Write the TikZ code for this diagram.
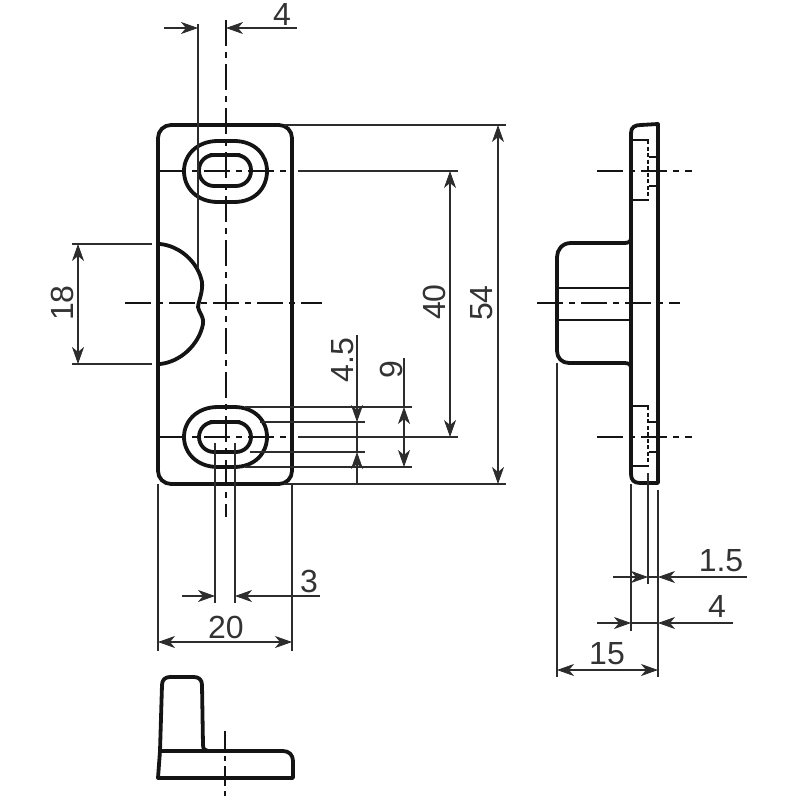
\documentclass[tikz,border=0pt]{standalone}
\usepackage{fontspec}
\setmainfont{Liberation Sans}
\usetikzlibrary{arrows.meta}
\definecolor{ink}{gray}{0.08}
\tikzset{
  outline/.style={line width=3.8pt,draw=ink,line cap=round,line join=round},
  thin part/.style={line width=2.6pt,draw=ink},
  hidden part/.style={line width=2.6pt,draw=ink,dash pattern=on 4pt off 2.5pt},
  ext/.style={line width=2.3pt,draw=ink!90},
  center line/.style={line width=2.6pt,draw=ink,dash pattern=on 26pt off 6pt on 6pt off 6pt},
  dimline/.style={line width=2.3pt,draw=ink!90},
  tipa/.tip={Stealth[length=17pt,width=12pt,inset=5pt,line width=0.8pt]},
  both/.style={dimline,tipa-tipa},
  endtip/.style={dimline,-tipa},
  lab/.style={font=\fontsize{32}{32}\selectfont,text=black!80,inner sep=0pt},
}
\begin{document}
\begin{tikzpicture}[x=1pt,y=-1pt]
\useasboundingbox (0,0) rectangle (800,800);
% ---- front view ----
\draw[outline,rounded corners=13pt] (158,300) -- (158,125) -- (292,125) -- (292,484) -- (158,484) -- cycle;
\draw[outline] (218,141) -- (234,141) .. controls (255,141) and (267,155) .. (267,171) .. controls (267,188) and (255,202) .. (234,202) -- (218,202) .. controls (197,202) and (184,188) .. (184,171) .. controls (184,155) and (197,141) .. (218,141) -- cycle;
\draw[outline,rounded corners=15pt] (225,155) -- (251,155) -- (251,186) -- (199,186) -- (199,155) -- cycle;
\draw[outline] (218,407) -- (234,407) .. controls (255,407) and (267,421) .. (267,437) .. controls (267,453) and (255,467) .. (234,467) -- (218,467) .. controls (197,467) and (184,453) .. (184,437) .. controls (184,421) and (197,407) .. (218,407) -- cycle;
\draw[outline,rounded corners=15pt] (225,422) -- (251,422) -- (251,452) -- (199,452) -- (199,422) -- cycle;
\draw[outline] (160,244) .. controls (180,246) and (198,262) .. (202,282) .. controls (203,292) and (199,299) .. (198,307) .. controls (199,313) and (204,316) .. (203,324) .. controls (199,345) and (180,362) .. (160,364);
% center lines
\draw[center line] (226,20) -- (226,517);
\draw[center line] (125,303) -- (322,303);
\draw[center line] (160,171) -- (290,171);
\draw[center line] (160,437) -- (290,437);
% extension lines, front view
\draw[ext] (198,24) -- (198,268);
\draw[ext] (215,443) -- (215,603);
\draw[ext] (235,443) -- (235,603);
\draw[ext] (158,484) -- (158,651);
\draw[ext] (292,484) -- (292,651);
\draw[ext] (284,125) -- (506,125);
\draw[ext] (298,171) -- (458,171);
\draw[ext] (298,437) -- (458,437);
\draw[ext] (284,484) -- (506,484);
\draw[ext] (245,407) -- (412,407);
\draw[ext] (260,422) -- (365,422);
\draw[ext] (250,452) -- (365,452);
\draw[ext] (245,467) -- (412,467);
\draw[ext] (72,244) -- (152,244);
\draw[ext] (72,364) -- (152,364);
% dimensions, front view
\coordinate (d4a) at (164,28); \coordinate (d4b) at (198,28);
\coordinate (d4c) at (297,28); \coordinate (d4d) at (226,28);
\draw[endtip] (d4a) -- (d4b);
\draw[endtip] (d4c) -- (d4d);
\coordinate (d3a) at (182,596); \coordinate (d3b) at (215,596);
\coordinate (d3c) at (320,596); \coordinate (d3d) at (235,596);
\draw[endtip] (d3a) -- (d3b);
\draw[endtip] (d3c) -- (d3d);
\coordinate (d20a) at (158,642); \coordinate (d20b) at (292,642);
\draw[both] (d20a) -- (d20b);
\coordinate (d18a) at (78,244); \coordinate (d18b) at (78,364);
\draw[both] (d18a) -- (d18b);
\coordinate (d40a) at (450,171); \coordinate (d40b) at (450,437);
\draw[both] (d40a) -- (d40b);
\coordinate (d54a) at (498,125); \coordinate (d54b) at (498,484);
\draw[both] (d54a) -- (d54b);
\coordinate (d9a) at (404,358); \coordinate (d9b) at (404,407); \coordinate (d9c) at (404,467);
\draw[dimline] (d9a) -- (d9b);
\draw[both] (d9b) -- (d9c);
\coordinate (d45a) at (357,335); \coordinate (d45b) at (357,422);
\coordinate (d45c) at (357,484); \coordinate (d45d) at (357,452);
\draw[endtip] (d45a) -- (d45b);
\draw[endtip] (d45c) -- (d45d);
\draw[dimline] (d45b) -- (d45d);
\node[lab] (t4) at (282,14) {4};
\node[lab] (t3) at (309,581) {3};
\node[lab] (t20) at (226,627) {20};
\node[lab,rotate=90] (t18) at (62,303) {18};
\node[lab,rotate=90] (t40) at (434,302) {40};
\node[lab,rotate=90] (t54) at (482,303) {54};
\node[lab,rotate=90] (t45) at (343,360) {4.5};
\node[lab,rotate=90] (t9) at (391,370) {9};
% ---- side view ----
\draw[outline] (631,300) -- (631,133) .. controls (631,127) and (635,125) .. (641,125) -- (658,124) -- (658,483) -- (640,483) .. controls (634,483) and (631,480) .. (631,474) -- cycle;
\draw[outline] (631,238) .. controls (631,242) and (628,243) .. (624,243) -- (571,243) .. controls (562,243) and (557,250) .. (557,257) -- (557,351) .. controls (557,358) and (562,363) .. (569,363) -- (624,363) .. controls (628,363) and (631,364) .. (631,368);
\draw[thin part] (557,288) -- (631,288);
\draw[thin part] (557,320) -- (631,320);
\draw[center line] (537,303) -- (680,303);
\draw[center line] (597,171) -- (692,171);
\draw[center line] (597,437) -- (692,437);
\draw[thin part] (632,140) -- (649,140);
\draw[thin part] (632,200) -- (649,200);
\draw[hidden part] (648,140) -- (648,200);
\draw[thin part] (649,157) -- (657,157);
\draw[thin part] (649,186) -- (657,186);
\draw[thin part] (632,406) -- (649,406);
\draw[thin part] (632,466) -- (649,466);
\draw[hidden part] (648,406) -- (648,466);
\draw[thin part] (649,422) -- (657,422);
\draw[thin part] (649,452) -- (657,452);
% extension lines, side view
\draw[ext] (557,363) -- (557,677);
\draw[ext] (631,484) -- (631,631);
\draw[ext] (648,473) -- (648,584);
\draw[ext] (658,490) -- (658,677);
% dimensions, side view
\coordinate (d15a) at (557,670); \coordinate (d15b) at (658,670);
\draw[both] (d15a) -- (d15b);
\coordinate (e4a) at (597,623); \coordinate (e4b) at (631,623);
\coordinate (e4c) at (733,623); \coordinate (e4d) at (658,623);
\draw[endtip] (e4a) -- (e4b);
\draw[endtip] (e4c) -- (e4d);
\draw[dimline] (e4b) -- (e4d);
\coordinate (d15x) at (613,577); \coordinate (d15y) at (648,577);
\coordinate (d15z) at (747,577); \coordinate (d15w) at (658,577);
\draw[endtip] (d15x) -- (d15y);
\draw[endtip] (d15z) -- (d15w);
\draw[dimline] (d15y) -- (d15w);
\node[lab] (t15) at (607,654) {15};
\node[lab] (t4b) at (717,606) {4};
\node[lab] (t1p5) at (721,561) {1.5};
% ---- bottom view ----
\draw[outline] (158,778) -- (160,751) -- (283,751) .. controls (289,751) and (293,755) .. (293,761) -- (293,778) -- cycle;
\draw[outline] (160,751) -- (162,685) .. controls (162,680) and (165,677) .. (170,677) -- (194,677) .. controls (199,677) and (202,680) .. (202,685) -- (203,745) .. controls (203,749) and (205,751) .. (208,751);
\draw[center line,dash pattern=on 20pt off 5pt on 5pt off 5pt] (225,731) -- (225,798);
\end{tikzpicture}
\end{document}
